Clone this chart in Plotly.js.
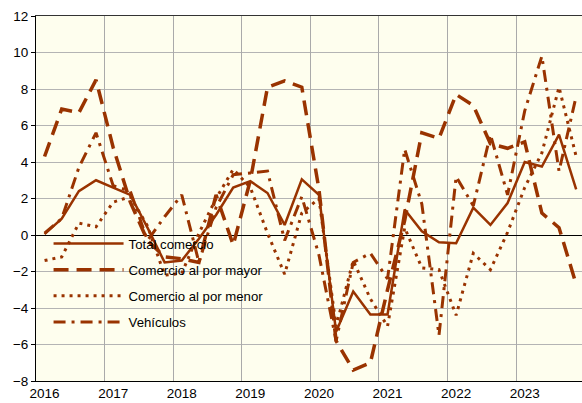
<!DOCTYPE html>
<html>
<head>
<meta charset="utf-8">
<script src="https://cdn.plot.ly/plotly-3.0.1.min.js"></script>
<style>html,body{margin:0;padding:0;background:#fff;}#chart{width:582px;height:403px;}</style>
</head>
<body>
<div id="chart"></div>
<script>
// Years and quarters (quarterly series 2016T1 - 2023T4)
const years = [2016, 2017, 2018, 2019, 2020, 2021, 2022, 2023];
const tickLabels = ['2016', '2017', '2018', '2019', '2020', '2021', '2022', '2023'];
const quarterOffsets = [0, 0.25, 0.5, 0.75];

// Series values (% variation)
const totalComercio = [0.05, 0.9, 2.4, 3.0, 2.6, 2.2, 0.4, -1.5,
  -1.4, -0.2, 1.1, 2.6, 2.95, 2.3, 0.55, 3.05,
  2.2, -5.3, -3.1, -4.35, -4.35, 1.4, 0.2, -0.4,
  -0.45, 1.5, 0.55, 1.75, 4.0, 3.75, 5.5, 2.5];
const porMayor = [4.3, 6.9, 6.7, 8.5, 4.8, 1.8, -0.3, -1.2,
  -1.3, -1.5, 2.2, -0.55, 3.0, 8.1, 8.45, 8.1,
  2.5, -5.8, -7.4, -7.0, -3.0, 0.8, 5.6, 5.3,
  7.7, 7.1, 5.0, 4.75, 5.1, 1.2, 0.4, -2.7];
const porMenor = [-1.4, -1.2, 0.65, 0.45, 1.8, 2.1, 0.5, -2.2,
  -2.1, 0.1, 2.0, 3.6, 2.6, 0.1, -2.15, 1.2,
  2.0, -5.0, -1.4, -3.5, -5.0, 0.4, -1.8, -1.9,
  -4.4, -1.0, -1.9, 0.15, 2.6, 4.5, 8.1, 4.3];
const vehiculos = [0.1, 0.9, 3.7, 5.6, 2.7, 2.4, -0.3, 1.0,
  2.2, -1.5, 1.5, 3.3, 3.4, 3.5, -0.3, 2.1,
  -1.1, -5.8, -1.5, -1.0, -2.4, 4.7, 1.7, -5.5,
  3.2, 1.6, 5.5, 2.2, 6.8, 9.8, 3.5, 7.6];

const seriesNames = ['Total comercio', 'Comercio al por mayor', 'Comercio al por menor', 'Vehículos'];

const xq = [];
years.forEach(y => quarterOffsets.forEach(q => xq.push(y + q)));
const gridPos = years.map(y => y - 0.125);

const col = '#993300';
const xRange = [2015.875, 2023.835];

const traces = [
  {x: xq, y: totalComercio, name: seriesNames[0], legendgroup: 'a', mode: 'lines',
   line: {color: col, width: 2.5}},
  {x: xq, y: porMayor, name: seriesNames[1], legendgroup: 'b', mode: 'lines',
   line: {color: col, width: 3.5, dash: '15px,8px'}},
  {x: xq, y: porMenor, name: seriesNames[2], legendgroup: 'c', mode: 'lines',
   line: {color: col, width: 3, dash: '3px,5px'}},
  {x: xq, y: vehiculos, name: seriesNames[3], legendgroup: 'd', mode: 'lines',
   line: {color: col, width: 3, dash: '12px,6px,3px,6px'}},
  {x: [], y: [], xaxis: 'x2', showlegend: false, hoverinfo: 'skip', mode: 'lines'}
];

const fontFam = 'Liberation Sans, Arial, sans-serif';
const layout = {
  width: 582, height: 403,
  margin: {l: 36, r: 0, t: 16, b: 22},
  paper_bgcolor: '#ffffff',
  plot_bgcolor: '#fefeee',
  font: {family: fontFam, size: 13.5, color: '#000'},
  showlegend: true,
  legend: {x: 0.023, y: 0.418, xanchor: 'left', yanchor: 'top',
    bgcolor: 'rgba(0,0,0,0)', borderwidth: 0, itemwidth: 70, tracegroupgap: 6,
    font: {family: fontFam, size: 13.2, color: '#000'}},
  xaxis: {range: xRange, tickvals: years, ticktext: tickLabels, showgrid: false,
    zeroline: false, showline: true, linecolor: '#000', linewidth: 1, ticks: '',
    tickfont: {size: 13.5}},
  xaxis2: {range: xRange, overlaying: 'x', side: 'top', tickvals: gridPos,
    showticklabels: false, showgrid: true, gridcolor: '#aaaaaa', gridwidth: 1,
    showline: true, linecolor: '#333', linewidth: 1, ticks: '', zeroline: false},
  yaxis: {range: [-8, 12], dtick: 2, tick0: 0, showgrid: true, gridcolor: '#b4b4b4',
    gridwidth: 1, zeroline: true, zerolinecolor: '#000', zerolinewidth: 1,
    showline: true, linecolor: '#000', linewidth: 1, ticks: 'outside', ticklen: 4,
    tickcolor: '#000', tickfont: {size: 13.5}}
};

Plotly.newPlot('chart', traces, layout, {displayModeBar: false, staticPlot: true});
</script>
</body>
</html>
